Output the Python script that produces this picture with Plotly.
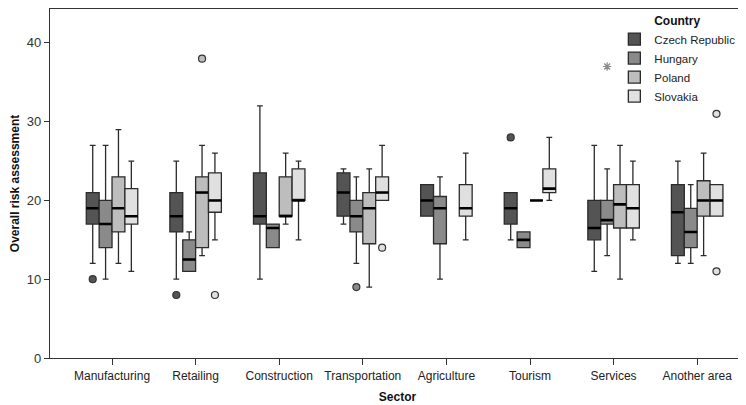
import plotly.graph_objects as go

sectors = ["Manufacturing", "Retailing", "Construction", "Transportation",
           "Agriculture", "Tourism", "Services", "Another area"]
countries = ["Czech Republic", "Hungary", "Poland", "Slovakia"]

# per country: [lower whisker, q1, median, q3, upper whisker] for each sector (None = no data)
czech = [[12, 17, 19, 21, 27], [10, 16, 18, 21, 25], [10, 17, 18, 23.5, 32], [17, 18, 21, 23.5, 24],
         [18, 18, 20, 22, 22], [15, 17, 19, 21, 21], [11, 15, 16.5, 20, 27], [12, 13, 18.5, 22, 25]]
hungary = [[10, 14, 17, 20, 27], [11, 11, 12.5, 15, 16], [14, 14, 16.5, 17, 17], [12, 16, 18, 20, 23],
           [10, 14.5, 19, 20.5, 23], [14, 14, 15, 16, 16], [13, 17, 17.5, 20, 24], [12, 14, 16, 19, 22]]
poland = [[12, 16, 19, 23, 29], [13, 14, 21, 23, 27], [17, 18, 18, 23, 26], [9, 14.5, 19, 21, 24],
          None, [20, 20, 20, 20, 20], [10, 16.5, 19.5, 22, 27], [13, 18, 20, 22.5, 26]]
slovakia = [[11, 17, 18, 21.5, 25], [15, 18.5, 20, 23.5, 26], [15, 20, 20, 24, 25], [20, 20, 21, 23, 27],
            [15, 18, 19, 22, 26], [20, 21, 21.5, 24, 28], [15, 16.5, 19, 22, 25], [18, 18, 20, 22, 22]]
stats = [czech, hungary, poland, slovakia]

# outliers: (sector, country, value, kind)
outliers = [
    ("Manufacturing", "Czech Republic", 10, "o"),
    ("Retailing", "Czech Republic", 8, "o"),
    ("Retailing", "Poland", 38, "o"),
    ("Retailing", "Slovakia", 8, "o"),
    ("Transportation", "Hungary", 9, "o"),
    ("Transportation", "Slovakia", 14, "o"),
    ("Tourism", "Czech Republic", 28, "o"),
    ("Services", "Hungary", 37, "*"),
    ("Another area", "Slovakia", 31, "o"),
    ("Another area", "Slovakia", 11, "o"),
]

y_ticks = [0, 10, 20, 30, 40]

fills = ["#545454", "#8a8a8a", "#bdbdbd", "#e0e0e0"]
BOXW = 0.154
offsets = [(-1.5 + k) * BOXW for k in range(4)]
FONT = "Arial, 'Liberation Sans', sans-serif"

fig = go.Figure()
for ci, (name, data) in enumerate(zip(countries, stats)):
    xs, lo, q1, md, q3, hi = [], [], [], [], [], []
    for si, row in enumerate(data):
        if row is None:
            continue
        xs.append(si + offsets[ci])
        lo.append(row[0]); q1.append(row[1]); md.append(row[2]); q3.append(row[3]); hi.append(row[4])
    fig.add_trace(go.Box(
        name=name, x=xs, q1=q1, median=md, q3=q3, lowerfence=lo, upperfence=hi,
        width=BOXW, whiskerwidth=0.45, fillcolor=fills[ci],
        line=dict(color="#2b2b2b", width=1.3), boxpoints=False, showlegend=True,
    ))
    fig.add_trace(go.Box(
        x=xs, q1=md, median=md, q3=md, lowerfence=md, upperfence=md,
        width=BOXW, whiskerwidth=0, fillcolor="rgba(0,0,0,0)",
        line=dict(color="#000000", width=2.6), boxpoints=False, showlegend=False,
        hoverinfo="skip",
    ))

for kind in ["o", "*"]:
    ox, oy, oc = [], [], []
    for sec, cty, val, k in outliers:
        if k != kind:
            continue
        ci = countries.index(cty)
        ox.append(sectors.index(sec) + offsets[ci])
        oy.append(val)
        oc.append(fills[ci] if kind == "o" else "#8a8a8a")
    if kind == "o":
        marker = dict(symbol="circle", size=7, color=oc, line=dict(color="#333333", width=1.2))
    else:
        marker = dict(symbol="asterisk-open", size=7, color=oc, line=dict(color="#8a8a8a", width=1.2))
    fig.add_trace(go.Scatter(x=ox, y=oy, mode="markers", marker=marker, showlegend=False))

# The page body has an 8px default margin, so the figure is sized to fit the window.
fig.update_layout(
    width=738, height=397,
    margin=dict(l=42, r=1, t=1, b=47, autoexpand=False),
    paper_bgcolor="white", plot_bgcolor="white",
    boxmode="overlay",
    font=dict(family=FONT, size=12, color="#222222"),
    legend=dict(
        x=0.812, y=1.0, xanchor="left", yanchor="top",
        title=dict(text="<b>Country</b>", side="top center", font=dict(size=12, color="#111")),
        font=dict(size=11.5, color="#222"), bgcolor="rgba(0,0,0,0)", itemwidth=30,
        tracegroupgap=0,
    ),
    xaxis=dict(
        range=[-0.742, 7.572], tickmode="array", automargin=False,
        tickvals=list(range(len(sectors))), ticktext=sectors,
        ticks="outside", ticklen=6, tickcolor="#333", showgrid=False, zeroline=False,
        showline=True, linecolor="#333", linewidth=1.3, mirror=True,
        title=dict(text="<b>Sector</b>", font=dict(size=12, color="#111"), standoff=11),
    ),
    yaxis=dict(
        range=[0, 44.3], tickmode="array", tickvals=y_ticks, automargin=False,
        ticks="outside", ticklen=5, tickcolor="#333", showgrid=False, zeroline=False,
        showline=True, linecolor="#333", linewidth=1.3, mirror=True,
        tickfont=dict(size=13, color="#333"),
        title=dict(text="<b>Overall risk assessment</b>", font=dict(size=12, color="#111"), standoff=4),
    ),
)

fig.write_html("out.html")
